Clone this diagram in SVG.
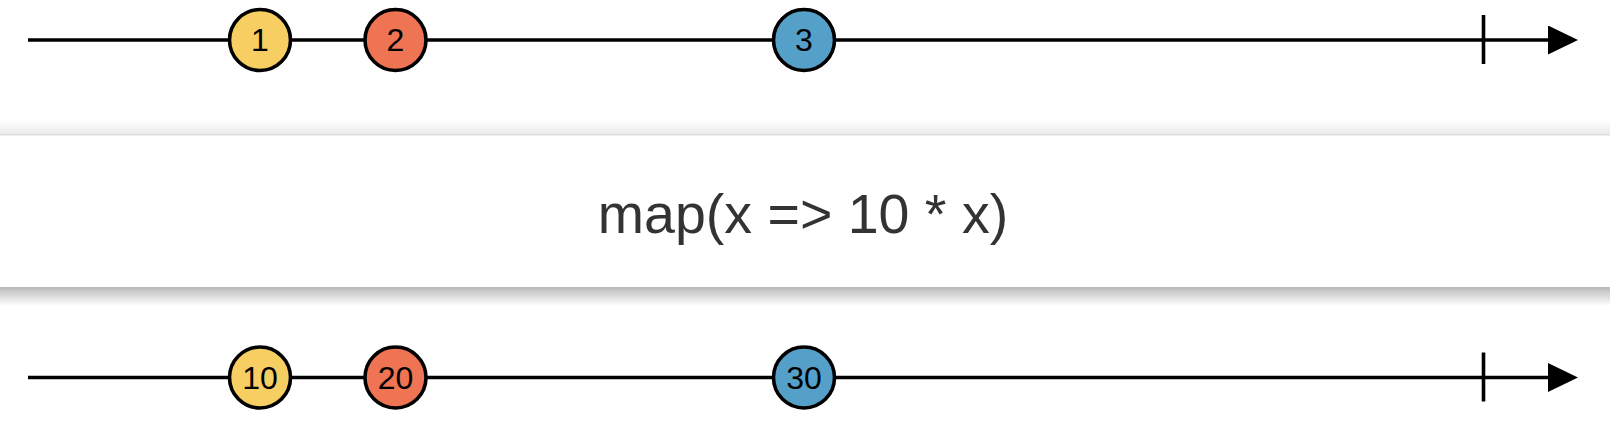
<svg xmlns="http://www.w3.org/2000/svg" width="1610" height="448" viewBox="0 0 1610 448">
<style>
.line{stroke:#000;stroke-width:3.6;fill:none}
.marble circle{stroke:#000;stroke-width:3.6}
.marble text{font-family:"Liberation Sans",Arial,sans-serif;font-size:32px;fill:#000;text-anchor:middle;dominant-baseline:central}
.yellow{fill:#F6CE61}
.red{fill:#EE7453}
.blue{fill:#55A0C9}
.op{font-family:"Liberation Sans",Arial,sans-serif;font-size:55.5px;fill:#333;text-anchor:middle}
</style>
<defs>
<marker id="arrow" viewBox="0 0 30 29" refX="0" refY="14.5" markerWidth="30" markerHeight="29" markerUnits="userSpaceOnUse" orient="auto">
<path d="M0,0 L30,14.5 L0,29 Z" fill="#000"/>
</marker>
<linearGradient id="shTop" x1="0" y1="0" x2="0" y2="1">
<stop offset="0" stop-color="#000" stop-opacity="0"/>
<stop offset="1" stop-color="#000" stop-opacity="0.08"/>
</linearGradient>
<linearGradient id="shBot" x1="0" y1="0" x2="0" y2="1">
<stop offset="0" stop-color="#000" stop-opacity="0.24"/>
<stop offset="1" stop-color="#000" stop-opacity="0"/>
</linearGradient>
</defs>
<rect width="1610" height="448" fill="#fff"/>
<g id="connectors">
<line class="line" x1="28" y1="40" x2="1548" y2="40" marker-end="url(#arrow)"/>
<line class="line" x1="1483.5" y1="15" x2="1483.5" y2="64"/>
<line class="line" x1="28" y1="377.5" x2="1548" y2="377.5" marker-end="url(#arrow)"/>
<line class="line" x1="1483.5" y1="352.5" x2="1483.5" y2="401.5"/>
</g>
<g id="operator">
<rect x="0" y="120" width="1610" height="14" fill="url(#shTop)"/>
<rect x="0" y="289" width="1610" height="17" fill="url(#shBot)"/>
<rect x="0" y="134" width="1610" height="155" fill="#fff"/>
<rect x="0" y="134" width="1610" height="1.5" fill="#ddd"/>
<rect x="0" y="287" width="1610" height="2" fill="#bbb"/>
<text class="op" x="803" y="233">map(x =&gt; 10 * x)</text>
</g>
<g id="m1" class="marble"><circle class="yellow" cx="260" cy="40" r="30.5"/><text x="260" y="40">1</text></g>
<g id="m2" class="marble"><circle class="red" cx="395.5" cy="40" r="30.5"/><text x="395.5" y="40">2</text></g>
<g id="m3" class="marble"><circle class="blue" cx="804" cy="40" r="30.5"/><text x="804" y="40">3</text></g>
<g id="m10" class="marble"><circle class="yellow" cx="260" cy="377.5" r="30.5"/><text x="260" y="377.5">10</text></g>
<g id="m20" class="marble"><circle class="red" cx="395.5" cy="377.5" r="30.5"/><text x="395.5" y="377.5">20</text></g>
<g id="m30" class="marble"><circle class="blue" cx="804" cy="377.5" r="30.5"/><text x="804" y="377.5">30</text></g>
</svg>
